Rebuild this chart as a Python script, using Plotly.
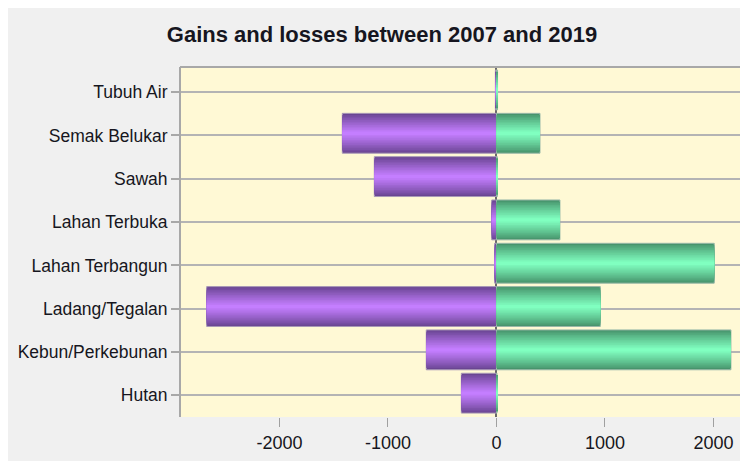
import plotly.graph_objects as go

categories = ["Hutan", "Kebun/Perkebunan", "Ladang/Tegalan", "Lahan Terbangun",
              "Lahan Terbuka", "Sawah", "Semak Belukar", "Tubuh Air"]
losses = [-324, -647, -2671, -17, -44, -1126, -1421, -10]
gains = [5, 2161, 957, 2007, 585, 8, 401, 10]
x_ticks = [-2000, -1000, 0, 1000, 2000]
title_text = "Gains and losses between 2007 and 2019"

FONT = "Liberation Sans, Arial, sans-serif"
# page body has an 8px margin; the figure itself starts at (8, 8)
W, H = 748, 453
ML, MT, MB = 172, 59, 44
BAR_W = 0.92
SHIFT = 0.05
N_LAYERS = 12


def lerp(c1, c2, t):
    a = [int(c1[i:i + 2], 16) for i in (1, 3, 5)]
    b = [int(c2[i:i + 2], 16) for i in (1, 3, 5)]
    return "#" + "".join(f"{round(a[k] + (b[k] - a[k]) * t):02x}" for k in range(3))


fig = go.Figure()


def add_gradient_bars(values, edge, center, outline):
    for i in range(N_LAYERS):
        t = i / (N_LAYERS - 1)
        w = BAR_W * (1 - i / N_LAYERS)
        col = lerp(edge, center, t ** 0.9)
        fig.add_trace(go.Bar(
            y=categories, x=values, orientation="h",
            width=w, offset=-w / 2 + SHIFT,
            marker=dict(color=col,
                        line=dict(color=outline if i == 0 else col,
                                  width=1 if i == 0 else 0)),
            showlegend=False, hoverinfo="x+y",
        ))


add_gradient_bars(losses, "#6a4592", "#c47eff", "#a898b8")
add_gradient_bars(gains, "#47946c", "#80ffc0", "#98b8a8")

fig.update_layout(
    width=W, height=H,
    barmode="overlay",
    paper_bgcolor="#f0f0f0",
    plot_bgcolor="#fff9d5",
    margin=dict(l=ML, r=0, t=MT, b=MB, pad=0, autoexpand=False),
    font=dict(family=FONT, size=17.5, color="#161620"),
    title=dict(text=title_text, xref="container", yref="container",
               x=374 / W, xanchor="center", y=1 - 26 / H, yanchor="middle",
               font=dict(family=FONT, size=22, color="#161620", weight="bold")),
    xaxis=dict(range=[-2917, 2392], tickvals=x_ticks, ticktext=[str(v) for v in x_ticks],
               showgrid=False, zeroline=True, zerolinecolor="#6a6a6a", zerolinewidth=1.5,
               ticks="outside", ticklen=9, tickcolor="#a0a0a0", tickwidth=1,
               tickfont=dict(size=18),
               showline=False, fixedrange=True, automargin=False),
    yaxis=dict(categoryorder="array", categoryarray=categories,
               range=[-0.5, 7.58], showgrid=True, gridcolor="#b4b4b4", gridwidth=2,
               ticks="outside", ticklen=8, tickcolor="#a8a8a8", tickwidth=2,
               showline=False, zeroline=False, fixedrange=True, automargin=False),
    shapes=[
        dict(type="line", xref="paper", yref="paper", x0=0, x1=0, y0=0, y1=1,
             line=dict(color="#a8a8a8", width=2), layer="above"),
        dict(type="line", xref="paper", yref="paper", x0=0, x1=1.0, y0=1, y1=1,
             line=dict(color="#a8a8a8", width=2), layer="above"),
    ],
)

fig.write_html("out.html")
